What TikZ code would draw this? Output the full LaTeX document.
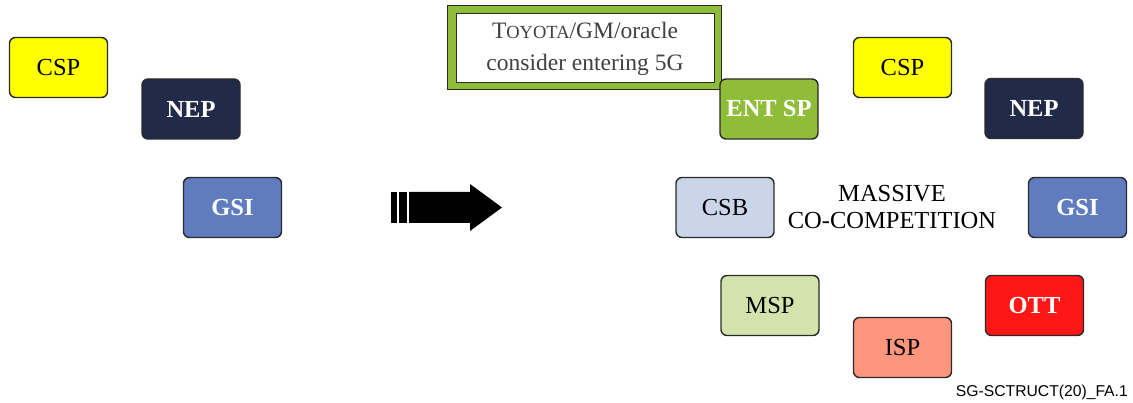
\documentclass[tikz,border=0pt]{standalone}
\usepackage{fontspec}
\setmainfont{Liberation Serif}
\newfontfamily\footfont{Liberation Sans}
\definecolor{edge}{HTML}{2A2A2A}
\definecolor{cspY}{HTML}{FFFF00}
\definecolor{nepN}{HTML}{212A48}
\definecolor{gsiB}{HTML}{5F7CBF}
\definecolor{entG}{HTML}{8FBD3A}
\definecolor{csbL}{HTML}{CAD5EA}
\definecolor{mspG}{HTML}{D3E3AB}
\definecolor{ispR}{HTML}{FD967C}
\definecolor{ottR}{HTML}{FF1616}
\definecolor{txtgray}{HTML}{404040}
\tikzset{
  actor/.style={draw=edge, line width=1.4pt, rounded corners=6pt,
    minimum width=98pt, minimum height=60pt, inner sep=0pt,
    font=\fontsize{24.5}{27}\selectfont},
  lightactor/.style={actor, text=black},
  darkactor/.style={actor, text=white, font=\fontsize{24.5}{27}\selectfont\bfseries},
}
\begin{document}
\begin{tikzpicture}[x=1pt, y=-1pt]
\useasboundingbox (0,0) rectangle (1133,403);

% players before the shift
\node[lightactor, fill=cspY] (csp1) at (58.5,67.5) {CSP};
\node[darkactor, fill=nepN] (nep1) at (191,109) {NEP};
\node[darkactor, fill=gsiB] (gsi1) at (232.5,207.5) {GSI};

% transition arrow
\fill (391,192) rectangle (397,223);
\fill (399,192) rectangle (407,223);
\fill (409,192) -- (470,192) -- (470,184) -- (502,207.5) -- (470,231) -- (470,223) -- (409,223) -- cycle;

% call-out box
\node[draw=edge, line width=1pt, fill=entG, minimum width=274pt, minimum height=84pt, inner sep=0pt] (frame) at (584,48) {};
\node[draw=edge, line width=1pt, fill=white, minimum width=258pt, minimum height=69pt, inner sep=0pt,
      align=center, text=txtgray, font=\fontsize{23.5}{32}\selectfont] (note) at (585,48.5)
      {T{\fontsize{18.5}{20}\selectfont OYOTA}/GM/oracle\\consider entering 5G};

% players after the shift
\node[darkactor, fill=entG] (ent) at (769,109) {ENT SP};
\node[lightactor, fill=cspY] (csp2) at (902.5,67.5) {CSP};
\node[darkactor, fill=nepN] (nep2) at (1034,108.5) {NEP};
\node[lightactor, fill=csbL] (csb) at (725,207.5) {CSB};
\node[darkactor, fill=gsiB] (gsi2) at (1077.5,207.5) {GSI};
\node[lightactor, fill=mspG] (msp) at (770,305.5) {MSP};
\node[lightactor, fill=ispR] (isp) at (902.5,347.5) {ISP};
\node[darkactor, fill=ottR] (ott) at (1034.5,305.5) {OTT};

\node[align=center, inner sep=0pt, font=\fontsize{24.5}{27.5}\selectfont] (mass) at (892,207)
  {MASSIVE\\CO-COMPETITION};

\node[anchor=base east, inner sep=0pt, font=\footfont\fontsize{15.7}{17}\selectfont] (ref) at (1128,396)
  {SG-SCTRUCT(20)\_FA.1};
\end{tikzpicture}
\end{document}
